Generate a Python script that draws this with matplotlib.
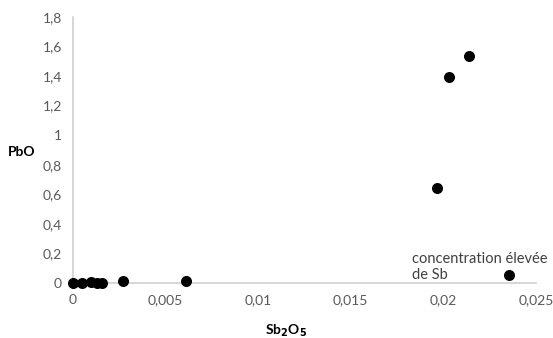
import matplotlib
matplotlib.use("Agg")
import matplotlib.pyplot as plt
from matplotlib.ticker import FuncFormatter

sb2o5 = [0.0, 0.0005, 0.00095, 0.0013, 0.00155, 0.0027, 0.0061, 0.01965, 0.0203, 0.0214, 0.02355]
pbo = [0.0, 0.0, 0.005, 0.0, 0.0, 0.01, 0.015, 0.645, 1.395, 1.535, 0.055]
xticks = [0, 0.005, 0.01, 0.015, 0.02, 0.025]
yticks = [0, 0.2, 0.4, 0.6, 0.8, 1.0, 1.2, 1.4, 1.6, 1.8]

plt.rcParams['font.family'] = ['Lato', 'DejaVu Sans']
grey = "#595959"

fig = plt.figure(figsize=(5.53, 3.38), dpi=100)
ax = fig.add_axes([0.132, 0.163, 0.837, 0.787])
ax.scatter(sb2o5, pbo, s=48, color="black", zorder=3, clip_on=False)
ax.set_xlim(0, 0.025); ax.set_ylim(0, 1.8)
ax.set_xticks(xticks); ax.set_yticks(yticks)
fmt = FuncFormatter(lambda v, p: ("%g" % round(v, 4)).replace(".", ","))
ax.xaxis.set_major_formatter(fmt); ax.yaxis.set_major_formatter(fmt)
ax.tick_params(length=0, labelsize=10, colors=grey, pad=8)
for s in ["top", "right"]: ax.spines[s].set_visible(False)
for s in ["left", "bottom"]: ax.spines[s].set_color("#d0d0d0"); ax.spines[s].set_linewidth(1.2)
ax.set_xlabel("Sb$_\\mathbf{2}$O$_\\mathbf{5}$", fontsize=10, fontweight="bold")
ax.xaxis.set_label_coords(0.46, -0.15)
ax.set_ylabel("PbO", fontsize=10, fontweight="bold", rotation=0)
ax.yaxis.set_label_coords(-0.11, 0.47)
ax.text(0.0183, 0.21, "concentration élevée\nde Sb", fontsize=10.5, color="#404040", va="top", linespacing=1.15)
fig.savefig("out.png", dpi=100)
